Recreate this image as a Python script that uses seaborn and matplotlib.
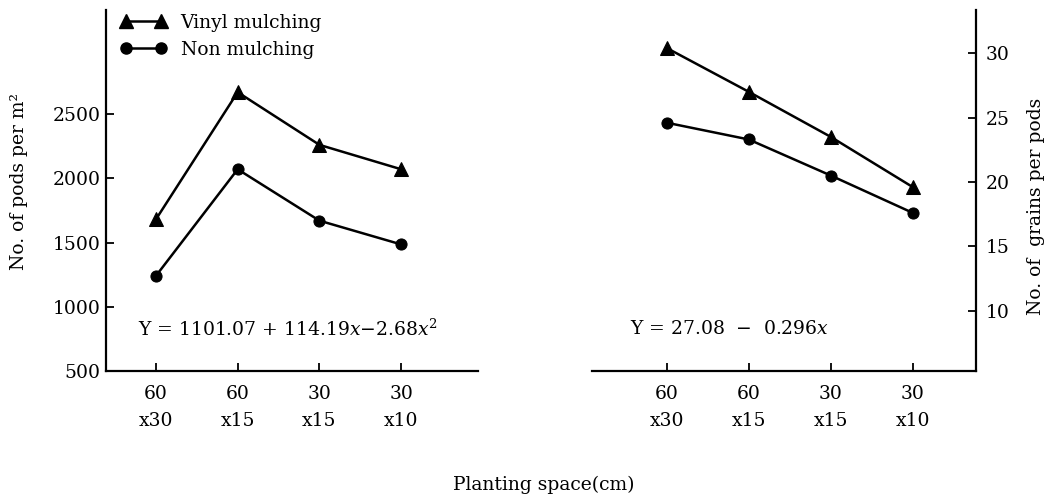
import pandas as pd
import seaborn as sns
import matplotlib.pyplot as plt
from matplotlib.lines import Line2D

# Planting space categories (x axis)
spacing = ["60\nx30", "60\nx15", "30\nx15", "30\nx10"]

# No. of pods per m2
pods_vinyl = [1680, 2670, 2260, 2070]
pods_non = [1240, 2070, 1670, 1485]

# No. of grains per pods
grains_vinyl = [30.4, 27.0, 23.5, 19.6]
grains_non = [24.6, 23.3, 20.5, 17.6]

labels = ["Vinyl mulching", "Non mulching"]

FS = 13.5


def main():
    sns.set_style("ticks")
    plt.rcParams['font.family'] = ['DejaVu Serif']
    plt.rcParams['mathtext.fontset'] = 'dejavuserif'
    for key in ['text.color', 'axes.labelcolor', 'xtick.color',
                'ytick.color', 'axes.edgecolor']:
        plt.rcParams[key] = 'black'

    fig = plt.figure(figsize=(10.53, 5.01), dpi=100)
    ax_l = fig.add_axes([0.1007, 0.2595, 0.3533, 0.7206])
    ax_r = fig.add_axes([0.5622, 0.2595, 0.3647, 0.7206])

    pods_df = pd.DataFrame({"space": spacing * 2,
                            "value": pods_vinyl + pods_non,
                            "treat": [labels[0]] * 4 + [labels[1]] * 4})
    grains_df = pd.DataFrame({"space": spacing * 2,
                              "value": grains_vinyl + grains_non,
                              "treat": [labels[0]] * 4 + [labels[1]] * 4})

    markers = {labels[0]: "^", labels[1]: "o"}
    for ax, df in [(ax_l, pods_df), (ax_r, grains_df)]:
        sns.lineplot(data=df, x="space", y="value", style="treat",
                     style_order=labels, markers=markers, dashes=False,
                     color="black", linewidth=1.8, markersize=9.5,
                     markeredgecolor="black", legend=False, ax=ax, sort=False)
        # circles a bit smaller than triangles
        for ln in ax.lines:
            if ln.get_marker() == "o":
                ln.set_markersize(8)
        ax.set_xlabel("")
        ax.set_ylabel("")
        ax.tick_params(direction="in", length=6, width=1.3, labelsize=FS)
        ax.tick_params(axis="x", pad=10)
        for lab in ax.get_xticklabels():
            lab.set_linespacing(1.65)
        for s in ax.spines.values():
            s.set_linewidth(1.6)

    # Left panel
    ax_l.set_xlim(-0.61, 3.94)
    ax_l.set_ylim(500, 3310)
    ax_l.set_yticks([500, 1000, 1500, 2000, 2500])
    ax_l.tick_params(axis="y", pad=4)
    ax_l.spines[["top", "right"]].set_visible(False)
    ax_l.set_ylabel("No. of pods per m²", fontsize=FS)
    ax_l.yaxis.set_label_coords(-0.21, 0.524)
    ax_l.text(0.086, 0.116, "Y = 1101.07 + 114.19$x$\u22122.68$x^2$",
              transform=ax_l.transAxes, fontsize=FS, va="center")

    handles = [Line2D([0], [0], color="black", lw=1.8, marker=markers[l],
                      markersize=9.5 if markers[l] == "^" else 8)
               for l in labels]
    ax_l.legend(handles, labels, loc="upper left", frameon=False,
                numpoints=2, handlelength=2.45, handletextpad=0.75,
                fontsize=FS, labelspacing=0.5, borderaxespad=0.1,
                bbox_to_anchor=(0.014, 1.016))

    # Right panel
    ax_r.set_xlim(-0.91, 3.77)
    ax_r.set_ylim(5.33, 33.35)
    ax_r.set_yticks([10, 15, 20, 25, 30])
    ax_r.yaxis.tick_right()
    ax_r.yaxis.set_label_position("right")
    ax_r.tick_params(axis="y", pad=7)
    ax_r.spines[["top", "left"]].set_visible(False)
    ax_r.set_ylabel("No. of  grains per pods", fontsize=FS)
    ax_r.yaxis.set_label_coords(1.132, 0.457)
    ax_r.text(0.099, 0.116, "Y = 27.08  \u2212  0.296$x$",
              transform=ax_r.transAxes, fontsize=FS, va="center")

    fig.text(0.516, 0.032, "Planting space(cm)", ha="center", va="center",
             fontsize=FS)

    fig.savefig("out.png", dpi=100)
    plt.close(fig)


if __name__ == "__main__":
    main()
